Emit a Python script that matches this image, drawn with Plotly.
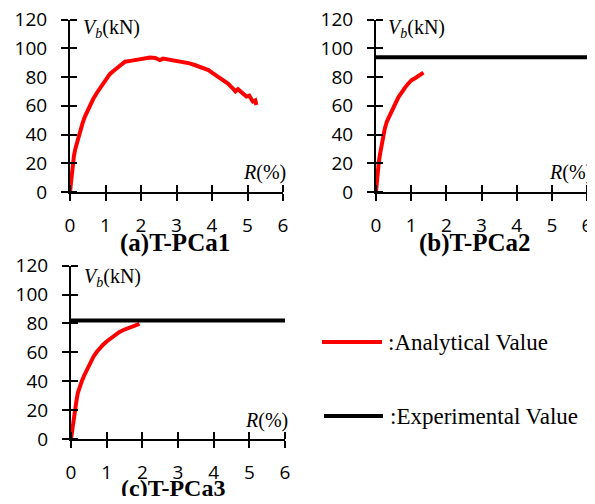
import plotly.graph_objects as go

# ---------------- data ----------------
R_a = [0.0, 0.03, 0.05, 0.08, 0.11, 0.15, 0.19, 0.24, 0.28, 0.35, 0.42, 0.49, 0.56, 0.65, 0.75, 0.85, 0.94,
       1.03, 1.12, 1.24, 1.36, 1.45, 1.55, 1.7, 1.87, 2.05, 2.25, 2.4, 2.53, 2.62, 2.72, 2.85, 3.0, 3.2,
       3.37, 3.55, 3.75, 3.9, 4.03, 4.15, 4.31, 4.45, 4.59, 4.66, 4.73, 4.8, 4.97, 5.05, 5.15, 5.22, 5.25]
V_a = [0.0, 8.0, 13.0, 19.0, 25.0, 30.0, 34.0, 38.5, 42.0, 47.5, 52.5, 56.5, 60.6, 64.5, 68.7, 72.0, 75.6,
       79.0, 82.0, 84.5, 87.0, 89.0, 90.6, 91.2, 91.8, 92.6, 93.6, 93.2, 91.8, 92.8, 92.3, 92.0, 91.3, 90.6,
       89.5, 88.0, 86.0, 84.8, 82.5, 80.5, 78.0, 75.5, 72.0, 70.0, 71.5, 69.8, 66.4, 67.0, 63.0, 63.8, 60.5]

R_b = [0.0, 0.03, 0.05, 0.08, 0.12, 0.16, 0.2, 0.25, 0.31, 0.38, 0.45, 0.55, 0.64, 0.73, 0.83, 0.92, 1.02,
       1.1, 1.21, 1.28, 1.35]
V_b = [0.0, 9.0, 15.5, 21.0, 27.0, 33.0, 38.6, 44.0, 49.0, 53.0, 57.0, 61.5, 66.0, 69.5, 72.8, 75.5, 78.0,
       79.0, 80.7, 81.5, 83.0]

R_c = [0.0, 0.03, 0.05, 0.08, 0.11, 0.15, 0.19, 0.24, 0.3, 0.37, 0.44, 0.53, 0.63, 0.72, 0.81, 0.9, 1.0,
       1.12, 1.23, 1.35, 1.47, 1.58, 1.7, 1.8, 1.92]
V_c = [0.0, 6.0, 11.0, 15.5, 20.0, 26.0, 31.8, 36.0, 39.8, 44.0, 47.9, 52.5, 57.0, 60.2, 62.9, 65.3, 67.5,
       70.0, 72.0, 74.0, 75.5, 76.5, 78.3, 79.0, 79.7]

exp_b = 93.7
exp_c = 82.0
exp_R = [0, 6]

x_ticks = [0, 1, 2, 3, 4, 5, 6]
y_ticks = [0, 20, 40, 60, 80, 100, 120]
panel_titles = ["(a)T-PCa1", "(b)T-PCa2", "(c)T-PCa3"]
legend_labels = [":Analytical Value", ":Experimental Value"]

# ---------------- layout helpers ----------------
W, H = 579, 488
OFF = 8  # page body margin


def px_x(p):
    return (p - OFF) / W


def px_y(p):
    return 1 - (p - OFF) / H


RED = "#ff0000"
BLACK = "#000000"
TICK_FONT = dict(family="Open Sans, sans-serif", size=19, color="black")
SERIF = "Liberation Serif, Times New Roman, serif"

fig = go.Figure()

# analytical curves
fig.add_trace(go.Scatter(x=R_a, y=V_a, mode="lines", line=dict(color=RED, width=4),
                         xaxis="x", yaxis="y", showlegend=False))
fig.add_trace(go.Scatter(x=R_b, y=V_b, mode="lines", line=dict(color=RED, width=4),
                         xaxis="x2", yaxis="y2", showlegend=False))
fig.add_trace(go.Scatter(x=R_c, y=V_c, mode="lines", line=dict(color=RED, width=4),
                         xaxis="x3", yaxis="y3", showlegend=False))
# experimental values
fig.add_trace(go.Scatter(x=exp_R, y=[exp_b, exp_b], mode="lines", line=dict(color=BLACK, width=4),
                         xaxis="x2", yaxis="y2", showlegend=False))
fig.add_trace(go.Scatter(x=exp_R, y=[exp_c, exp_c], mode="lines", line=dict(color=BLACK, width=4),
                         xaxis="x3", yaxis="y3", showlegend=False))

eps = 1e-6


def xaxis(dom, anchor):
    return dict(domain=dom, anchor=anchor, range=[0, 6], tickmode="array", tickvals=x_ticks,
                ticktext=[str(t) for t in x_ticks], showgrid=False, zeroline=False,
                showline=True, linecolor=BLACK, linewidth=2, ticks="outside", ticklen=7,
                tickwidth=2, tickcolor=BLACK, tickfont=TICK_FONT, ticklabelstandoff=8,
                ticklabeloverflow="allow",
                minor=dict(ticks="inside", tickmode="array", tickvals=[t + eps for t in x_ticks],
                           ticklen=7, tickwidth=2, tickcolor=BLACK, showgrid=False),
                automargin=False, fixedrange=True)


def yaxis(dom, anchor):
    return dict(domain=dom, anchor=anchor, range=[0, 120], tickmode="array", tickvals=y_ticks,
                ticktext=[str(t) for t in y_ticks], showgrid=False, zeroline=False,
                showline=True, linecolor=BLACK, linewidth=2, ticks="outside", ticklen=7,
                tickwidth=2, tickcolor=BLACK, tickfont=TICK_FONT, ticklabelstandoff=10,
                ticklabeloverflow="allow",
                minor=dict(ticks="inside", tickmode="array", tickvals=[t + eps for t in y_ticks],
                           ticklen=7, tickwidth=2, tickcolor=BLACK, showgrid=False),
                automargin=False, fixedrange=True)


dom_x_a = [px_x(70), px_x(283)]
dom_x_b = [px_x(376), px_x(587)]
dom_x_c = [px_x(71), px_x(285)]
dom_y_top = [px_y(192), px_y(19.5)]
dom_y_c = [px_y(439), px_y(265.7)]

annotations = []


def label(text, x, y, xanchor, size):
    annotations.append(dict(text=text, x=px_x(x), y=px_y(y), xref="paper", yref="paper",
                            xanchor=xanchor, yanchor="middle", showarrow=False,
                            font=dict(family=SERIF, size=size, color="black")))


vb = "<i>V</i><sub><i>b</i></sub>(kN)"
rp = "<i>R</i>(%)"
label(vb, 81, 28, "left", 20)
label(vb, 386, 28, "left", 20)
label(vb, 82, 277, "left", 20)
label(rp, 288, 172, "right", 20)
label(rp, 594, 172, "right", 20)
label(rp, 290, 420, "right", 20)
label("<b>%s</b>" % panel_titles[0], 175, 243, "center", 25)
label("<b>%s</b>" % panel_titles[1], 475, 243, "center", 25)
label("<b>%s</b>" % panel_titles[2], 173, 488, "center", 24)
label(legend_labels[0], 386, 342, "left", 23)
label(legend_labels[1], 388, 416, "left", 23)

shapes = [
    dict(type="line", xref="paper", yref="paper", x0=px_x(322), x1=px_x(382), y0=px_y(342), y1=px_y(342),
         line=dict(color=RED, width=4)),
    dict(type="line", xref="paper", yref="paper", x0=px_x(324), x1=px_x(383), y0=px_y(416), y1=px_y(416),
         line=dict(color=BLACK, width=4)),
]

fig.update_layout(
    width=W, height=H, margin=dict(l=0, r=0, t=0, b=0, autoexpand=False),
    paper_bgcolor="white", plot_bgcolor="white",
    xaxis=xaxis(dom_x_a, "y"), yaxis=yaxis(dom_y_top, "x"),
    xaxis2=xaxis(dom_x_b, "y2"), yaxis2=yaxis(dom_y_top, "x2"),
    xaxis3=xaxis(dom_x_c, "y3"), yaxis3=yaxis(dom_y_c, "x3"),
    annotations=annotations, shapes=shapes, showlegend=False,
)

fig.write_html("out.html")
